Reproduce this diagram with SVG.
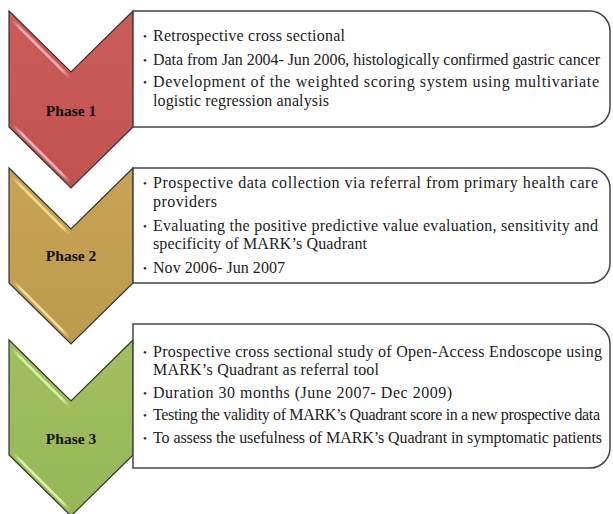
<svg xmlns="http://www.w3.org/2000/svg" width="613" height="514" viewBox="0 0 613 514">
<defs>
<linearGradient id="gRed" x1="0" y1="0" x2="0" y2="1"><stop offset="0" stop-color="#CB5C5A"/><stop offset="1" stop-color="#C25250"/></linearGradient>
<linearGradient id="gGold" x1="0" y1="0" x2="0" y2="1"><stop offset="0" stop-color="#C8A355"/><stop offset="1" stop-color="#BE9A4C"/></linearGradient>
<linearGradient id="gGreen" x1="0" y1="0" x2="0" y2="1"><stop offset="0" stop-color="#A0C05F"/><stop offset="1" stop-color="#96B755"/></linearGradient>
<linearGradient id="hRed" x1="0" y1="0" x2="1" y2="1"><stop offset="0" stop-color="#F4B0AE" stop-opacity="0"/><stop offset="0.15" stop-color="#F4B0AE"/><stop offset="0.85" stop-color="#F4B0AE"/><stop offset="1" stop-color="#F4B0AE" stop-opacity="0"/></linearGradient>
<linearGradient id="hGold" x1="0" y1="0" x2="1" y2="1"><stop offset="0" stop-color="#F6DC90" stop-opacity="0"/><stop offset="0.15" stop-color="#F6DC90"/><stop offset="0.85" stop-color="#F6DC90"/><stop offset="1" stop-color="#F6DC90" stop-opacity="0"/></linearGradient>
<linearGradient id="hGreen" x1="0" y1="0" x2="1" y2="1"><stop offset="0" stop-color="#DDF2A8" stop-opacity="0"/><stop offset="0.15" stop-color="#DDF2A8"/><stop offset="0.85" stop-color="#DDF2A8"/><stop offset="1" stop-color="#DDF2A8" stop-opacity="0"/></linearGradient>
</defs>
<style>
.chev{stroke:#333333;stroke-width:1.2;stroke-linejoin:miter}
.hl{fill:none;stroke-width:2.5;stroke-linecap:round}
.box{fill:#FFFFFF;stroke:#444444;stroke-width:1.5}
.phase{font-family:"Liberation Serif","Times New Roman",serif;font-weight:bold;font-size:15.5px;fill:#111111;text-anchor:middle}
.t{font-family:"Liberation Serif","Times New Roman",serif;font-size:16px;fill:#222222}
.b{font-family:"Liberation Serif","Times New Roman",serif;font-size:11px;fill:#222222}
</style>
<rect width="613" height="514" fill="#FFFFFF"/>
<g id="phase1">
<polygon class="chev" fill="url(#gRed)" points="9,11 71,72 133,11 133,127 71,188 9,127"/>
<line class="hl" stroke="url(#hRed)" x1="12" y1="20" x2="70" y2="78"/>
<line class="hl" stroke="url(#hRed)" x1="13" y1="125" x2="70" y2="182"/>
<text class="phase" x="71" y="116">Phase 1</text>
</g>
<g id="phase2">
<polygon class="chev" fill="url(#gGold)" points="9,168 71,229 133,168 133,283 71,344 9,283"/>
<line class="hl" stroke="url(#hGold)" x1="12" y1="177" x2="70" y2="235"/>
<line class="hl" stroke="url(#hGold)" x1="13" y1="281" x2="70" y2="338"/>
<text class="phase" x="71" y="261">Phase 2</text>
</g>
<g id="phase3">
<polygon class="chev" fill="url(#gGreen)" points="9,340 71,401 133,340 133,455 71,516 9,455"/>
<line class="hl" stroke="url(#hGreen)" x1="12" y1="349" x2="70" y2="407"/>
<line class="hl" stroke="url(#hGreen)" x1="13" y1="453" x2="70" y2="510"/>
<text class="phase" x="71" y="444">Phase 3</text>
</g>
<g id="box1">
<path class="box" d="M133,11 H590 A20,20 0 0 1 610,31 V107 A20,20 0 0 1 590,127 H133 Z"/>
<text class="b" x="143" y="40">•</text>
<text class="t" x="153" y="41" textLength="192" lengthAdjust="spacing">Retrospective cross sectional</text>
<text class="b" x="143" y="63.5">•</text>
<text class="t" x="153" y="64.5" textLength="447" lengthAdjust="spacing">Data from Jan 2004- Jun 2006, histologically confirmed gastric cancer</text>
<text class="b" x="143" y="86">•</text>
<text class="t" x="153" y="87" textLength="446" lengthAdjust="spacing">Development of the weighted scoring system using multivariate</text>
<text class="t" x="153" y="106" textLength="176" lengthAdjust="spacing">logistic regression analysis</text>
</g>
<g id="box2">
<path class="box" d="M133,168 H590 A20,20 0 0 1 610,188 V263 A20,20 0 0 1 590,283 H133 Z"/>
<text class="b" x="143" y="187">•</text>
<text class="t" x="153" y="188" textLength="445" lengthAdjust="spacing">Prospective data collection via referral from primary health care</text>
<text class="t" x="153" y="207" textLength="64" lengthAdjust="spacing">providers</text>
<text class="b" x="143" y="230">•</text>
<text class="t" x="153" y="231" textLength="445" lengthAdjust="spacing">Evaluating the positive predictive value evaluation, sensitivity and</text>
<text class="t" x="153" y="249" textLength="214" lengthAdjust="spacing">specificity of MARK’s Quadrant</text>
<text class="b" x="143" y="272">•</text>
<text class="t" x="153" y="273" textLength="132" lengthAdjust="spacing">Nov 2006- Jun 2007</text>
</g>
<g id="box3">
<path class="box" d="M133,324 H590 A20,20 0 0 1 610,344 V448 A20,20 0 0 1 590,468 H133 Z"/>
<text class="b" x="143" y="356">•</text>
<text class="t" x="153" y="357" textLength="449" lengthAdjust="spacing">Prospective cross sectional study of Open-Access Endoscope using</text>
<text class="t" x="153" y="375" textLength="226" lengthAdjust="spacing">MARK’s Quadrant as referral tool</text>
<text class="b" x="143" y="397">•</text>
<text class="t" x="153" y="398" textLength="299" lengthAdjust="spacing">Duration 30 months (June 2007- Dec 2009)</text>
<text class="b" x="143" y="419">•</text>
<text class="t" x="153" y="420" textLength="447" lengthAdjust="spacing">Testing the validity of MARK’s Quadrant score in a new prospective data</text>
<text class="b" x="143" y="442">•</text>
<text class="t" x="153" y="443" textLength="449" lengthAdjust="spacing">To assess the usefulness of MARK’s Quadrant in symptomatic patients</text>
</g>
<g id="connectors"></g>
</svg>
